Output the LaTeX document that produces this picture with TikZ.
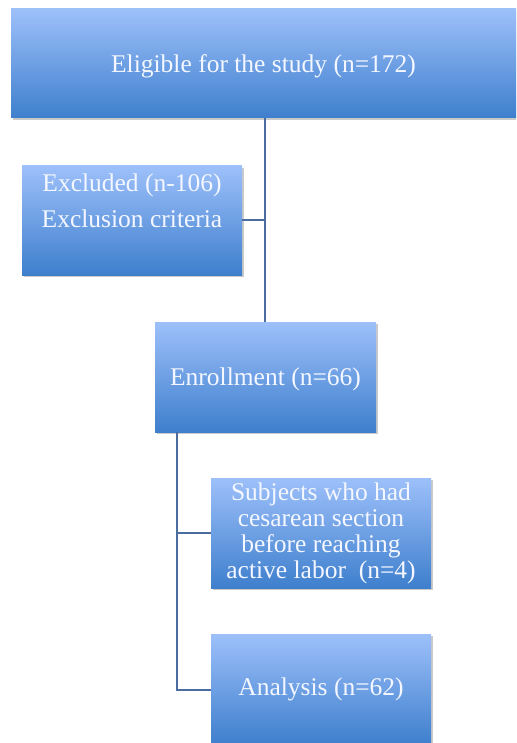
\documentclass[tikz,border=0pt]{standalone}
\usepackage{fontspec}
\setmainfont{Liberation Serif}
\usetikzlibrary{shadows}
\definecolor{gtop}{RGB}{157,192,250}
\definecolor{gbot}{RGB}{62,127,205}
\definecolor{lnc}{RGB}{74,108,158}
\definecolor{tx}{RGB}{244,247,255}
\begin{document}
\begin{tikzpicture}[x=1pt,y=-1pt,
  bx/.style={draw=none,top color=gtop,bottom color=gbot,
    drop shadow={shadow xshift=2pt,shadow yshift=-2pt,opacity=0.35,fill=black!60},
    text=tx,font=\fontsize{25.5}{26}\selectfont,align=center,inner sep=0pt},
  ln/.style={draw=lnc,line width=1.4pt}]
\useasboundingbox (0,0) rectangle (516,743);
\begin{scope}
\clip (0,0) rectangle (516,743);
\node[bx,minimum width=505pt,minimum height=109pt,text height=25pt,text depth=6pt] (elig) at (263.5,63.5) {Eligible for the study (n=172)};
\node[bx,minimum width=220pt,minimum height=109pt] (excl) at (132,220.5) {};
\node[text=tx,font=\fontsize{25.5}{36}\selectfont,align=center,anchor=north,inner sep=0pt] (excltxt) at (132,174) {Excluded (n-106)\\Exclusion criteria};
\node[bx,minimum width=221pt,minimum height=110pt,text height=23pt,text depth=6pt] (enrl) at (265.5,377) {Enrollment (n=66)};
\node[bx,minimum width=220pt,minimum height=110pt] (subj) at (321,533) {Subjects who had\\cesarean section\\before reaching\\active labor~~(n=4)};
\node[bx,minimum width=220pt,minimum height=110pt] (anal) at (321,689) {Analysis (n=62)};
\coordinate (j1) at (265,220);
\coordinate (j2) at (177,533);
\coordinate (j3) at (177,690);
\draw[ln] (elig.south -| j1) -- (enrl.north -| j1);
\draw[ln] (excl.east |- j1) -- (j1);
\draw[ln] (enrl.south -| j2) -- (j3) -- (anal.west |- j3);
\draw[ln] (j2) -- (subj.west |- j2);
\end{scope}
\end{tikzpicture}
\end{document}
